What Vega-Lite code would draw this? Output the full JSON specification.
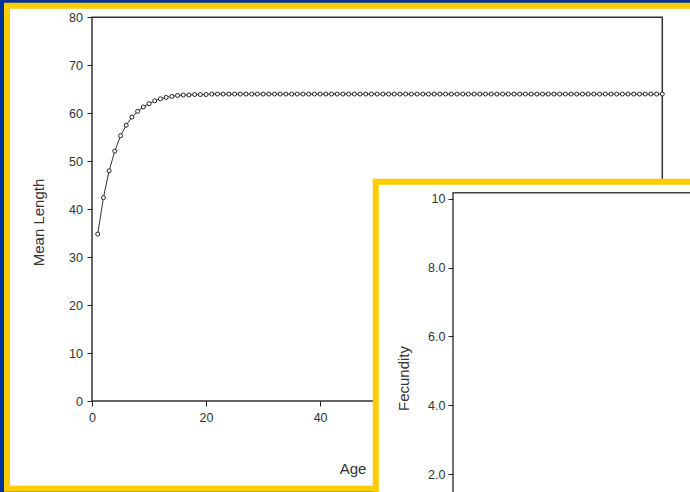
{
  "$schema": "https://vega.github.io/schema/vega-lite/v6.json",
  "width": 690,
  "height": 492,
  "padding": 0,
  "autosize": {"type": "none"},
  "background": "#003399",
  "config": {
    "view": {"stroke": null},
    "axis": {
      "domain": false,
      "grid": false,
      "tickColor": "#222222",
      "tickSize": 5,
      "tickWidth": 1,
      "labelFont": "Liberation Sans",
      "labelFontSize": 12.5,
      "labelColor": "#333333",
      "titleFont": "Liberation Sans",
      "titleFontSize": 15,
      "titleFontWeight": "normal",
      "titleColor": "#333333"
    }
  },
  "data": {
    "values": [
      {"Age": 1, "Length": 34.8}, {"Age": 2, "Length": 42.4}, {"Age": 3, "Length": 48.0}, {"Age": 4, "Length": 52.1},
      {"Age": 5, "Length": 55.3}, {"Age": 6, "Length": 57.5}, {"Age": 7, "Length": 59.2}, {"Age": 8, "Length": 60.4},
      {"Age": 9, "Length": 61.3}, {"Age": 10, "Length": 62.0}, {"Age": 11, "Length": 62.6}, {"Age": 12, "Length": 63.0},
      {"Age": 13, "Length": 63.3}, {"Age": 14, "Length": 63.5}, {"Age": 15, "Length": 63.7}, {"Age": 16, "Length": 63.8},
      {"Age": 17, "Length": 63.8}, {"Age": 18, "Length": 63.9}, {"Age": 19, "Length": 63.9}, {"Age": 20, "Length": 63.9},
      {"Age": 21, "Length": 64.0}, {"Age": 22, "Length": 64.0}, {"Age": 23, "Length": 64.0}, {"Age": 24, "Length": 64.0},
      {"Age": 25, "Length": 64.0}, {"Age": 26, "Length": 64.0}, {"Age": 27, "Length": 64.0}, {"Age": 28, "Length": 64.0},
      {"Age": 29, "Length": 64.0}, {"Age": 30, "Length": 64.0}, {"Age": 31, "Length": 64.0}, {"Age": 32, "Length": 64.0},
      {"Age": 33, "Length": 64.0}, {"Age": 34, "Length": 64.0}, {"Age": 35, "Length": 64.0}, {"Age": 36, "Length": 64.0},
      {"Age": 37, "Length": 64.0}, {"Age": 38, "Length": 64.0}, {"Age": 39, "Length": 64.0}, {"Age": 40, "Length": 64.0},
      {"Age": 41, "Length": 64.0}, {"Age": 42, "Length": 64.0}, {"Age": 43, "Length": 64.0}, {"Age": 44, "Length": 64.0},
      {"Age": 45, "Length": 64.0}, {"Age": 46, "Length": 64.0}, {"Age": 47, "Length": 64.0}, {"Age": 48, "Length": 64.0},
      {"Age": 49, "Length": 64.0}, {"Age": 50, "Length": 64.0}, {"Age": 51, "Length": 64.0}, {"Age": 52, "Length": 64.0},
      {"Age": 53, "Length": 64.0}, {"Age": 54, "Length": 64.0}, {"Age": 55, "Length": 64.0}, {"Age": 56, "Length": 64.0},
      {"Age": 57, "Length": 64.0}, {"Age": 58, "Length": 64.0}, {"Age": 59, "Length": 64.0}, {"Age": 60, "Length": 64.0},
      {"Age": 61, "Length": 64.0}, {"Age": 62, "Length": 64.0}, {"Age": 63, "Length": 64.0}, {"Age": 64, "Length": 64.0},
      {"Age": 65, "Length": 64.0}, {"Age": 66, "Length": 64.0}, {"Age": 67, "Length": 64.0}, {"Age": 68, "Length": 64.0},
      {"Age": 69, "Length": 64.0}, {"Age": 70, "Length": 64.0}, {"Age": 71, "Length": 64.0}, {"Age": 72, "Length": 64.0},
      {"Age": 73, "Length": 64.0}, {"Age": 74, "Length": 64.0}, {"Age": 75, "Length": 64.0}, {"Age": 76, "Length": 64.0},
      {"Age": 77, "Length": 64.0}, {"Age": 78, "Length": 64.0}, {"Age": 79, "Length": 64.0}, {"Age": 80, "Length": 64.0},
      {"Age": 81, "Length": 64.0}, {"Age": 82, "Length": 64.0}, {"Age": 83, "Length": 64.0}, {"Age": 84, "Length": 64.0},
      {"Age": 85, "Length": 64.0}, {"Age": 86, "Length": 64.0}, {"Age": 87, "Length": 64.0}, {"Age": 88, "Length": 64.0},
      {"Age": 89, "Length": 64.0}, {"Age": 90, "Length": 64.0}, {"Age": 91, "Length": 64.0}, {"Age": 92, "Length": 64.0},
      {"Age": 93, "Length": 64.0}, {"Age": 94, "Length": 64.0}, {"Age": 95, "Length": 64.0}, {"Age": 96, "Length": 64.0},
      {"Age": 97, "Length": 64.0}, {"Age": 98, "Length": 64.0}, {"Age": 99, "Length": 64.0}, {"Age": 100, "Length": 64.0}
    ]
  },
  "resolve": {"scale": {"y": "independent"}, "axis": {"y": "independent"}},
  "layer": [
    {
      "layer": [
        {
          "data": {"values": [{}]},
          "mark": {"type": "rect", "fill": "#FFFFFF", "stroke": "#FFCC00", "strokeWidth": 6},
          "encoding": {
            "x": {"datum": -14.905, "type": "quantitative"},
            "x2": {"datum": 110},
            "y": {"datum": 82.41, "type": "quantitative"},
            "y2": {"datum": -18.3}
          }
        },
        {
          "data": {"values": [{}]},
          "mark": {"type": "rect", "fill": "transparent", "stroke": "#333333", "strokeWidth": 1.5},
          "encoding": {
            "x": {"datum": 0, "type": "quantitative"},
            "x2": {"datum": 100},
            "y": {"datum": 80, "type": "quantitative"},
            "y2": {"datum": 0}
          }
        },
        {
          "mark": {"type": "line", "color": "#333333", "strokeWidth": 1},
          "encoding": {
            "x": {
              "field": "Age", "type": "quantitative",
              "scale": {"domain": [-16.132, 104.857], "nice": false, "zero": false},
              "axis": {
                "orient": "bottom", "offset": -91, "values": [0, 20, 40], "labelPadding": 5, "zindex": 2,
                "title": "Age", "titleX": 352.5, "titleY": 72.5, "titleAlign": "center", "titleBaseline": "alphabetic"
              }
            },
            "y": {
              "field": "Length", "type": "quantitative",
              "scale": {"domain": [-18.974, 83.611], "nice": false, "zero": false},
              "axis": {
                "orient": "left", "offset": -92, "values": [0, 10, 20, 30, 40, 50, 60, 70, 80], "labelPadding": 4.5, "zindex": 2,
                "title": "Mean Length", "titleX": -53.7, "titleY": 222, "titleAngle": -90, "titleAlign": "center", "titleBaseline": "middle"
              }
            }
          }
        },
        {
          "mark": {"type": "point", "shape": "circle", "filled": true, "fill": "#FFFFFF", "stroke": "#222222", "strokeWidth": 1, "size": 16, "opacity": 1},
          "encoding": {
            "x": {"field": "Age", "type": "quantitative"},
            "y": {"field": "Length", "type": "quantitative"}
          }
        },
        {
          "data": {"values": [{}]},
          "mark": {"type": "rect", "fill": "#FFFFFF", "stroke": "#FFCC00", "strokeWidth": 6},
          "encoding": {
            "x": {"datum": 49.75, "type": "quantitative"},
            "x2": {"datum": 110},
            "y": {"datum": 45.71, "type": "quantitative"},
            "y2": {"datum": -30}
          }
        }
      ]
    },
    {
      "data": {"values": [{}]},
      "mark": {"type": "rect", "fill": "transparent", "stroke": "#444444", "strokeWidth": 1.5},
      "encoding": {
        "x": {"datum": 63.3, "type": "quantitative"},
        "x2": {"datum": 110},
        "y": {
          "datum": 10.183, "type": "quantitative",
          "scale": {"domain": [1.4764, 15.789], "nice": false, "zero": false},
          "axis": {
            "orient": "left", "offset": -453, "values": [2, 4, 6, 8, 10], "format": ".2r", "labelPadding": 3, "zindex": 2,
            "title": "Fecundity", "titleX": -49.7, "titleY": 378, "titleAngle": -90, "titleAlign": "center", "titleBaseline": "middle"
          }
        },
        "y2": {"datum": -5}
      }
    }
  ]
}
